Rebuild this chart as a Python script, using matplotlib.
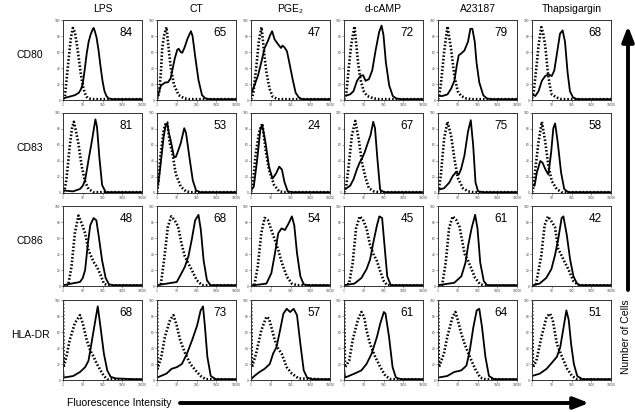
import matplotlib
matplotlib.use("Agg")
import matplotlib.pyplot as plt
import numpy as np

plt.rcParams['font.family'] = ['Liberation Sans', 'DejaVu Sans']

TREATMENTS = ["LPS", "CT", "PGE₂", "d-cAMP", "A23187", "Thapsigargin"]
MARKERS = ["CD80", "CD83", "CD86", "HLA-DR"]
X_TICKS = [1, 10, 100, 1000, 10000]
X_TICK_LABELS = ["1", "10", "100", "1000", "10000"]
Y_TICKS = [0, 20, 40, 60, 80, 100]

# percentages printed in each panel (rows = markers, columns = treatments)
PCT_CD80 = [84, 65, 47, 72, 79, 68]
PCT_CD83 = [81, 53, 24, 67, 75, 58]
PCT_CD86 = [48, 68, 54, 45, 61, 42]
PCT_HLADR = [68, 73, 57, 61, 64, 51]

# histograms: (log10 fluorescence, relative cell count)
ISO_CD80 = {
    "LPS": [(0,1),(0.1,5),(0.2,30),(0.3,55),(0.4,78),(0.5,90),(0.6,85),(0.7,70),(0.8,52),(0.9,33),(1.0,18),(1.1,9),(1.2,4),(1.3,2),(1.5,1),(4,1)],
    "CT": [(0,1),(0.1,8),(0.2,35),(0.26,63),(0.35,80),(0.48,91),(0.6,62),(0.69,42),(0.86,19),(1.1,6),(1.38,2),(1.6,1),(4,1)],
    "PGE₂": [(0,1),(0.05,3),(0.12,9),(0.28,44),(0.4,74),(0.53,91),(0.6,75),(0.69,53),(0.78,35),(0.94,14),(1.1,4),(1.36,1),(4,1)],
    "d-cAMP": [(0,1),(0.1,4),(0.22,35),(0.36,68),(0.53,92),(0.62,70),(0.71,47),(0.83,26),(1.0,11),(1.17,5),(1.5,2),(1.8,1),(4,1)],
    "A23187": [(0,1),(0.05,5),(0.14,18),(0.31,60),(0.48,92),(0.66,64),(0.83,30),(1.0,11),(1.17,5),(1.43,2),(1.7,1),(4,1)],
    "Thapsigargin": [(0,2),(0.08,9),(0.25,47),(0.33,68),(0.47,91),(0.55,85),(0.67,68),(0.8,35),(0.9,18),(1.0,7),(1.25,3),(1.5,1),(4,1)],
}
STAIN_CD80 = {
    "LPS": [(0,2),(0.3,4),(0.6,6),(0.8,9),(0.9,13),(1.0,20),(1.1,38),(1.2,58),(1.3,73),(1.4,82),(1.5,88),(1.55,90),(1.6,87),(1.7,78),(1.8,62),(1.9,42),(2.0,24),(2.1,11),(2.2,5),(2.3,2),(2.5,1),(4,1)],
    "CT": [(0,1),(0.1,10),(0.2,18),(0.3,20),(0.43,22),(0.55,22),(0.69,27),(0.8,40),(0.9,52),(1.03,63),(1.1,64),(1.2,60),(1.28,59),(1.4,66),(1.55,77),(1.72,86),(1.8,80),(1.93,55),(2.1,25),(2.28,6),(2.45,2),(2.7,1),(4,1)],
    "PGE₂": [(0,5),(0.03,9),(0.2,20),(0.36,31),(0.53,48),(0.69,65),(0.86,74),(0.95,80),(1.07,86),(1.19,76),(1.36,70),(1.52,65),(1.6,68),(1.69,66),(1.82,61),(1.93,48),(2.1,27),(2.26,9),(2.43,3),(2.6,1),(4,1)],
    "d-cAMP": [(0,5),(0.31,7),(0.48,11),(0.66,24),(0.83,30),(0.97,31),(1.09,24),(1.26,26),(1.43,37),(1.6,62),(1.78,85),(1.9,93),(2.0,81),(2.12,47),(2.29,18),(2.47,5),(2.64,2),(2.9,1),(4,1)],
    "A23187": [(0,5),(0.22,5),(0.48,7),(0.66,14),(0.83,24),(0.95,43),(1.05,56),(1.17,58),(1.34,62),(1.52,73),(1.64,89),(1.74,89),(1.86,73),(1.95,47),(2.09,22),(2.29,6),(2.47,2),(2.7,1),(4,1)],
    "Thapsigargin": [(0,9),(0.08,6),(0.17,5),(0.33,11),(0.5,24),(0.67,30),(0.83,32),(1.0,30),(1.13,37),(1.25,56),(1.42,83),(1.55,87),(1.67,73),(1.8,35),(1.92,11),(2.08,3),(2.3,1),(4,1)],
}
ISO_CD83 = {
    "LPS": [(0,1),(0.08,4),(0.17,16),(0.34,58),(0.45,80),(0.55,89),(0.65,78),(0.78,62),(0.95,33),(1.12,14),(1.29,5),(1.55,1),(4,1)],
    "CT": [(0,1),(0.08,15),(0.17,45),(0.34,79),(0.45,88),(0.52,88),(0.65,62),(0.78,50),(0.95,24),(1.2,8),(1.47,2),(1.7,1),(4,1)],
    "PGE₂": [(0,1),(0.1,12),(0.22,45),(0.4,75),(0.57,87),(0.65,72),(0.74,54),(0.91,29),(1.17,10),(1.43,2),(1.7,1),(4,1)],
    "d-cAMP": [(0,1),(0.1,6),(0.22,30),(0.4,72),(0.57,90),(0.74,68),(0.91,38),(1.09,19),(1.26,6),(1.52,2),(1.8,1),(4,1)],
    "A23187": [(0,1),(0.05,6),(0.14,21),(0.31,68),(0.48,89),(0.66,72),(0.83,43),(1.0,19),(1.26,6),(1.52,2),(1.8,1),(4,1)],
    "Thapsigargin": [(0,1),(0.08,8),(0.17,30),(0.33,64),(0.5,89),(0.67,64),(0.83,34),(1.0,15),(1.25,5),(1.5,1),(4,1)],
}
STAIN_CD83 = {
    "LPS": [(0,4),(0.1,3),(0.5,2),(0.86,5),(1.0,9),(1.12,16),(1.29,41),(1.47,66),(1.6,86),(1.64,92),(1.72,83),(1.84,45),(1.98,10),(2.16,1),(4,1)],
    "CT": [(0,4),(0.08,15),(0.17,33),(0.34,71),(0.45,86),(0.52,87),(0.6,75),(0.69,66),(0.86,45),(0.95,45),(1.03,50),(1.2,62),(1.38,81),(1.47,75),(1.64,45),(1.81,16),(1.98,3),(2.2,1),(4,1)],
    "PGE₂": [(0,3),(0.14,8),(0.31,41),(0.48,81),(0.57,85),(0.74,62),(0.91,33),(1.09,18),(1.26,24),(1.43,33),(1.57,29),(1.69,14),(1.86,2),(2.1,1),(4,1)],
    "d-cAMP": [(0,4),(0.31,9),(0.48,17),(0.66,30),(0.79,38),(0.91,43),(1.05,51),(1.17,60),(1.34,72),(1.48,89),(1.57,81),(1.69,43),(1.83,4),(2.03,1),(4,1)],
    "A23187": [(0,4),(0.31,6),(0.57,13),(0.74,21),(0.91,26),(1.05,23),(1.17,30),(1.34,47),(1.52,77),(1.66,91),(1.78,60),(1.9,13),(2.03,2),(2.3,1),(4,1)],
    "Thapsigargin": [(0,11),(0.13,9),(0.25,26),(0.42,40),(0.53,38),(0.67,30),(0.83,23),(0.97,51),(1.08,81),(1.17,87),(1.3,64),(1.47,26),(1.63,5),(1.83,1),(4,1)],
}
ISO_CD86 = {
    "LPS": [(0,0.5),(0.26,1),(0.43,24),(0.6,66),(0.78,88),(0.95,78),(1.12,66),(1.29,45),(1.55,30),(1.72,24),(1.9,14),(2.07,3),(2.24,1),(4,0.5)],
    "CT": [(0,0.5),(0.2,3),(0.38,37),(0.55,74),(0.72,87),(0.9,82),(1.07,74),(1.24,53),(1.41,37),(1.59,28),(1.76,20),(2.02,7),(2.28,1),(4,0.5)],
    "PGE₂": [(0,0.5),(0.17,1),(0.34,24),(0.52,66),(0.69,85),(0.86,82),(1.03,70),(1.2,58),(1.38,45),(1.55,30),(1.81,12),(2.07,3),(2.33,1),(4,0.5)],
    "d-cAMP": [(0,0.5),(0.26,3),(0.44,29),(0.61,72),(0.79,87),(0.96,83),(1.14,72),(1.32,51),(1.49,40),(1.67,31),(1.84,18),(2.02,6),(2.19,1),(4,0.5)],
    "A23187": [(0,0.5),(0.21,1),(0.39,29),(0.56,72),(0.74,87),(0.91,83),(1.09,74),(1.35,40),(1.53,31),(1.7,21),(1.88,10),(2.14,2),(2.4,0.5),(4,0.5)],
    "Thapsigargin": [(0,0.5),(0.21,3),(0.47,38),(0.64,76),(0.81,87),(0.98,81),(1.16,74),(1.33,46),(1.5,38),(1.67,29),(1.84,21),(2.1,6),(2.36,1),(4,0.5)],
}
STAIN_CD86 = {
    "LPS": [(0,1),(0.86,5),(1.0,10),(1.12,20),(1.26,53),(1.38,76),(1.55,85),(1.69,82),(1.81,62),(1.98,32),(2.16,10),(2.33,2),(2.6,1),(4,1)],
    "CT": [(0,1),(1.0,5),(1.24,16),(1.41,24),(1.59,37),(1.76,58),(1.93,82),(2.1,89),(2.22,70),(2.36,32),(2.53,7),(2.71,1),(4,1)],
    "PGE₂": [(0,0.5),(0.78,3),(1.03,16),(1.2,39),(1.38,66),(1.55,72),(1.72,70),(1.9,78),(2.07,87),(2.19,76),(2.33,41),(2.5,12),(2.67,2),(2.9,1),(4,1)],
    "d-cAMP": [(0,1),(0.53,3),(0.88,10),(1.14,21),(1.32,33),(1.49,55),(1.67,76),(1.79,87),(1.93,85),(2.05,51),(2.19,12),(2.37,1),(4,1)],
    "A23187": [(0,1),(0.82,4),(1.18,12),(1.39,29),(1.53,51),(1.7,72),(1.88,89),(2.0,72),(2.14,29),(2.32,6),(2.49,1),(4,1)],
    "Thapsigargin": [(0,0.5),(0.38,3),(0.72,10),(0.98,21),(1.16,38),(1.33,59),(1.5,85),(1.59,87),(1.76,64),(1.93,33),(2.1,12),(2.28,3),(2.45,1),(4,1)],
}
ISO_HLADR = {
    "LPS": [(0,100),(0.03,16),(0.17,29),(0.34,50),(0.6,71),(0.86,81),(1.0,71),(1.2,50),(1.38,37),(1.55,29),(1.72,20),(1.9,12),(2.07,5),(2.24,1),(4,0.5)],
    "CT": [(0,100),(0.03,14),(0.22,29),(0.4,54),(0.66,75),(0.83,81),(1.0,68),(1.17,50),(1.43,33),(1.69,20),(1.95,12),(2.21,5),(2.47,1),(4,0.5)],
    "PGE₂": [(0,100),(0.05,16),(0.26,33),(0.52,62),(0.78,79),(0.91,77),(1.03,66),(1.2,50),(1.38,39),(1.55,33),(1.81,16),(2.07,8),(2.41,2),(4,0.5)],
    "d-cAMP": [(0,100),(0.05,16),(0.26,24),(0.44,50),(0.7,75),(0.88,85),(1.02,79),(1.14,62),(1.32,45),(1.58,29),(1.84,16),(2.1,5),(2.37,1),(4,0.5)],
    "A23187": [(0,100),(0.05,16),(0.3,33),(0.47,54),(0.74,79),(0.88,85),(1.0,75),(1.18,58),(1.35,45),(1.61,29),(1.88,14),(2.14,3),(2.4,1),(4,0.5)],
    "Thapsigargin": [(0,100),(0.05,16),(0.22,24),(0.48,54),(0.74,79),(0.91,83),(1.05,75),(1.26,45),(1.52,29),(1.78,14),(2.03,5),(2.29,1),(4,0.5)],
}
STAIN_HLADR = {
    "LPS": [(0,16),(0.03,3),(0.52,5),(0.86,10),(1.12,16),(1.29,24),(1.47,50),(1.64,75),(1.76,92),(1.9,66),(2.07,33),(2.24,12),(2.41,4),(2.67,2),(3.6,1),(4,1)],
    "CT": [(0,3),(0.48,8),(0.74,14),(1.0,16),(1.26,20),(1.52,33),(1.78,50),(2.03,68),(2.21,87),(2.33,92),(2.43,66),(2.55,29),(2.72,5),(2.98,1),(4,1)],
    "PGE₂": [(0,1),(0.17,5),(0.43,10),(0.69,14),(0.95,20),(1.12,33),(1.29,41),(1.47,62),(1.64,83),(1.81,89),(1.98,85),(2.16,89),(2.33,81),(2.5,45),(2.67,12),(2.84,3),(3.1,1),(4,1)],
    "d-cAMP": [(0,16),(0.05,3),(0.53,8),(0.88,12),(1.14,20),(1.4,33),(1.67,54),(1.84,71),(2.02,85),(2.1,83),(2.28,54),(2.46,16),(2.63,3),(2.89,1),(4,1)],
    "A23187": [(0,3),(0.47,5),(0.82,10),(1.18,12),(1.44,18),(1.61,37),(1.79,66),(1.96,87),(2.09,89),(2.23,66),(2.4,29),(2.58,5),(2.84,1),(4,1)],
    "Thapsigargin": [(0,5),(0.4,8),(0.74,14),(1.09,24),(1.26,29),(1.43,41),(1.6,66),(1.74,87),(1.86,75),(1.98,45),(2.12,20),(2.29,5),(2.55,1),(4,1)],
}

ROWS = [
    ("CD80", ISO_CD80, STAIN_CD80, PCT_CD80),
    ("CD83", ISO_CD83, STAIN_CD83, PCT_CD83),
    ("CD86", ISO_CD86, STAIN_CD86, PCT_CD86),
    ("HLA-DR", ISO_HLADR, STAIN_HLADR, PCT_HLADR),
]

W, H = 635, 412
fig = plt.figure(figsize=(W / 100, H / 100), dpi=100)

col_left = [63, 157, 251, 344, 438, 532]
row_top = [20, 113, 206, 300]
aw, ah = 79, 80

def unpack(pts):
    a = np.array(pts, dtype=float)
    return 10 ** a[:, 0], a[:, 1]

for r, (marker, iso, stain, pct) in enumerate(ROWS):
    for c, tr in enumerate(TREATMENTS):
        ax = fig.add_axes([col_left[c] / W, 1 - (row_top[r] + ah) / H, aw / W, ah / H])
        xi, yi = unpack(iso[tr])
        xs, ys = unpack(stain[tr])
        ax.plot(xi, yi, color="black", lw=1.9, linestyle=(0, (0.6, 0.75)),
                dash_capstyle="butt", clip_on=True)
        ax.plot(xs, ys, color="black", lw=1.3, solid_joinstyle="round")
        ax.set_xscale("log")
        ax.set_xlim(1, 10000)
        ax.set_ylim(0, 100)
        ax.set_xticks(X_TICKS)
        ax.set_xticklabels(X_TICK_LABELS)
        ax.set_yticks(Y_TICKS)
        ax.minorticks_off()
        ax.tick_params(axis="both", labelsize=2.3, length=1.2, width=0.4, pad=0.8, colors="#444444")
        for s in ax.spines.values():
            s.set_linewidth(0.7)
            s.set_color("#333333")
        ax.text(0.80, 0.84, str(pct[c]), transform=ax.transAxes, ha="center", va="center",
                fontsize=8.5)
        if r == 0:
            ax.text(0.5, 1.0 + 11 / ah, tr, transform=ax.transAxes, ha="center", va="center",
                    fontsize=7.5)
        if c == 0:
            fig.text(30 / W, 1 - (row_top[r] + ah / 2 - 5) / H, marker, ha="center", va="center",
                     fontsize=7.5)

# overlay for axis titles and arrows (pixel coordinates)
ov = fig.add_axes([0, 0, 1, 1])
ov.set_xlim(0, W)
ov.set_ylim(H, 0)
ov.axis("off")
ov.text(67, 403, "Fluorescence Intensity", ha="left", va="center", fontsize=7.5)
ov.annotate("", xy=(589, 403), xytext=(180, 403),
            arrowprops=dict(arrowstyle="-|>,head_length=0.9,head_width=0.35", lw=2.8, color="black",
                            shrinkA=0, shrinkB=0))
ov.text(626, 337, "Number of Cells", rotation=90, ha="center", va="center", fontsize=7.5)
ov.annotate("", xy=(628, 26), xytext=(628, 290),
            arrowprops=dict(arrowstyle="-|>,head_length=0.9,head_width=0.35", lw=2.8, color="black",
                            shrinkA=0, shrinkB=0))

fig.savefig("out.png", dpi=100)
